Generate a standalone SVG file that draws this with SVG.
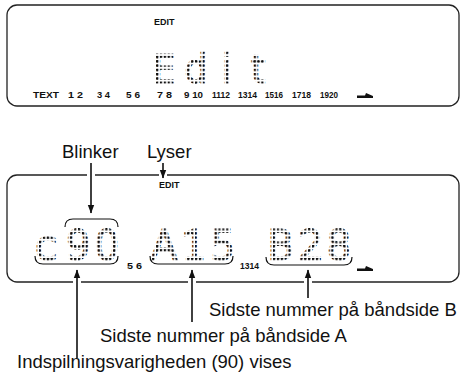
<svg xmlns="http://www.w3.org/2000/svg" width="461" height="374" viewBox="0 0 461 374">
<defs>
<pattern id="dots" width="3.9" height="4.3" patternUnits="userSpaceOnUse"><rect width="2.2" height="2.2" fill="#111"/></pattern>
<marker id="ah" markerWidth="9" markerHeight="8" refX="8" refY="4" orient="auto" markerUnits="userSpaceOnUse"><path d="M0,0.8 L8.5,4 L0,7.2 z" fill="#111"/></marker>
<style>
.box{fill:none;stroke:#222;stroke-width:1.3}
.lcd{font-family:"DejaVu Sans","Liberation Sans",sans-serif;font-weight:200;fill:url(#dots);stroke:url(#dots);stroke-width:2.8;text-anchor:middle}
.sm{font-family:"Liberation Sans",Arial,sans-serif;font-weight:bold;font-size:9px;fill:#111}
.lbl{font-family:"Liberation Sans",Arial,sans-serif;font-size:18.5px;fill:#111}
.br{fill:none;stroke:#111;stroke-width:1.2}
.ar{stroke:#111;stroke-width:1.6;fill:none;marker-end:url(#ah)}
.gap{fill:#fff}
</style>
</defs>
<rect width="461" height="374" fill="#fff"/>
<g id="display1">
<rect class="box" x="7" y="5" width="452" height="101" rx="10"/>
<text class="sm" x="154" y="25">EDIT</text>
<text class="lcd" font-size="37" x="164 196 227 258" y="81.5">Edit</text>
<text class="sm" x="33" y="97.5" textLength="26" lengthAdjust="spacingAndGlyphs">TEXT</text>
<text class="sm" x="68" y="97.5" textLength="15" lengthAdjust="spacingAndGlyphs">1 2</text>
<text class="sm" x="97" y="97.5" textLength="13" lengthAdjust="spacingAndGlyphs">3 4</text>
<text class="sm" x="126" y="97.5" textLength="14" lengthAdjust="spacingAndGlyphs">5 6</text>
<text class="sm" x="157" y="97.5" textLength="15" lengthAdjust="spacingAndGlyphs">7 8</text>
<text class="sm" x="184" y="97.5" textLength="19" lengthAdjust="spacingAndGlyphs">9 10</text>
<text class="sm" x="212" y="97.5" textLength="18" lengthAdjust="spacingAndGlyphs">1112</text>
<text class="sm" x="238" y="97.5" textLength="19" lengthAdjust="spacingAndGlyphs">1314</text>
<text class="sm" x="265" y="97.5" textLength="18" lengthAdjust="spacingAndGlyphs">1516</text>
<text class="sm" x="292" y="97.5" textLength="19" lengthAdjust="spacingAndGlyphs">1718</text>
<text class="sm" x="320" y="97.5" textLength="18" lengthAdjust="spacingAndGlyphs">1920</text>
<polygon points="357,98 357,95.5 365,95.5 366,93 373,96 373,98" fill="#111"/>
</g>
<g id="display2">
<rect class="box" x="7" y="175" width="452" height="107" rx="10"/>
<text class="sm" x="159" y="188">EDIT</text>
<text class="lcd" font-size="39" x="46 78 107" y="259">c90</text>
<text class="lcd" font-size="39" x="164 194 223" y="259">A15</text>
<text class="lcd" font-size="39" x="280 311 339" y="259">B28</text>
<text class="sm" x="127" y="269" textLength="15" lengthAdjust="spacingAndGlyphs">5 6</text>
<text class="sm" x="240" y="269" textLength="19" lengthAdjust="spacingAndGlyphs">1314</text>
<polygon points="357,271 357,268.5 365,268.5 366,266 373,269 373,271" fill="#111"/>
<path class="br" d="M65,227 Q65,219 73,219 H110 Q118,219 118,227"/>
<path class="br" d="M35,256 Q35,264 43,264 H110 Q118,264 118,256"/>
<path class="br" d="M150,256 Q150,264 158,264 H225 Q233,264 233,256"/>
<path class="br" d="M266,257 Q266,265 274,265 H344 Q352,265 352,257"/>
</g>
<g id="labels">
<text class="lbl" x="62" y="158">Blinker</text>
<text class="lbl" x="147" y="158">Lyser</text>
<text class="lbl" x="209" y="316">Sidste nummer på båndside B</text>
<text class="lbl" x="100" y="342">Sidste nummer på båndside A</text>
<text class="lbl" x="17" y="368">Indspilningsvarigheden (90) vises</text>
</g>
<g id="connectors">
<rect class="gap" x="87" y="172" width="8" height="6"/>
<rect class="gap" x="159" y="172" width="8" height="6"/>
<rect class="gap" x="73" y="279" width="8" height="6"/>
<rect class="gap" x="188" y="279" width="8" height="6"/>
<rect class="gap" x="304" y="279" width="8" height="6"/>
<line class="ar" x1="91" y1="163" x2="91" y2="213"/>
<line class="ar" x1="163" y1="163" x2="163" y2="178"/>
<line class="ar" x1="77" y1="358" x2="77" y2="270"/>
<line class="ar" x1="192" y1="322" x2="192" y2="270"/>
<line class="ar" x1="308" y1="298" x2="308" y2="270"/>
</g>
</svg>
